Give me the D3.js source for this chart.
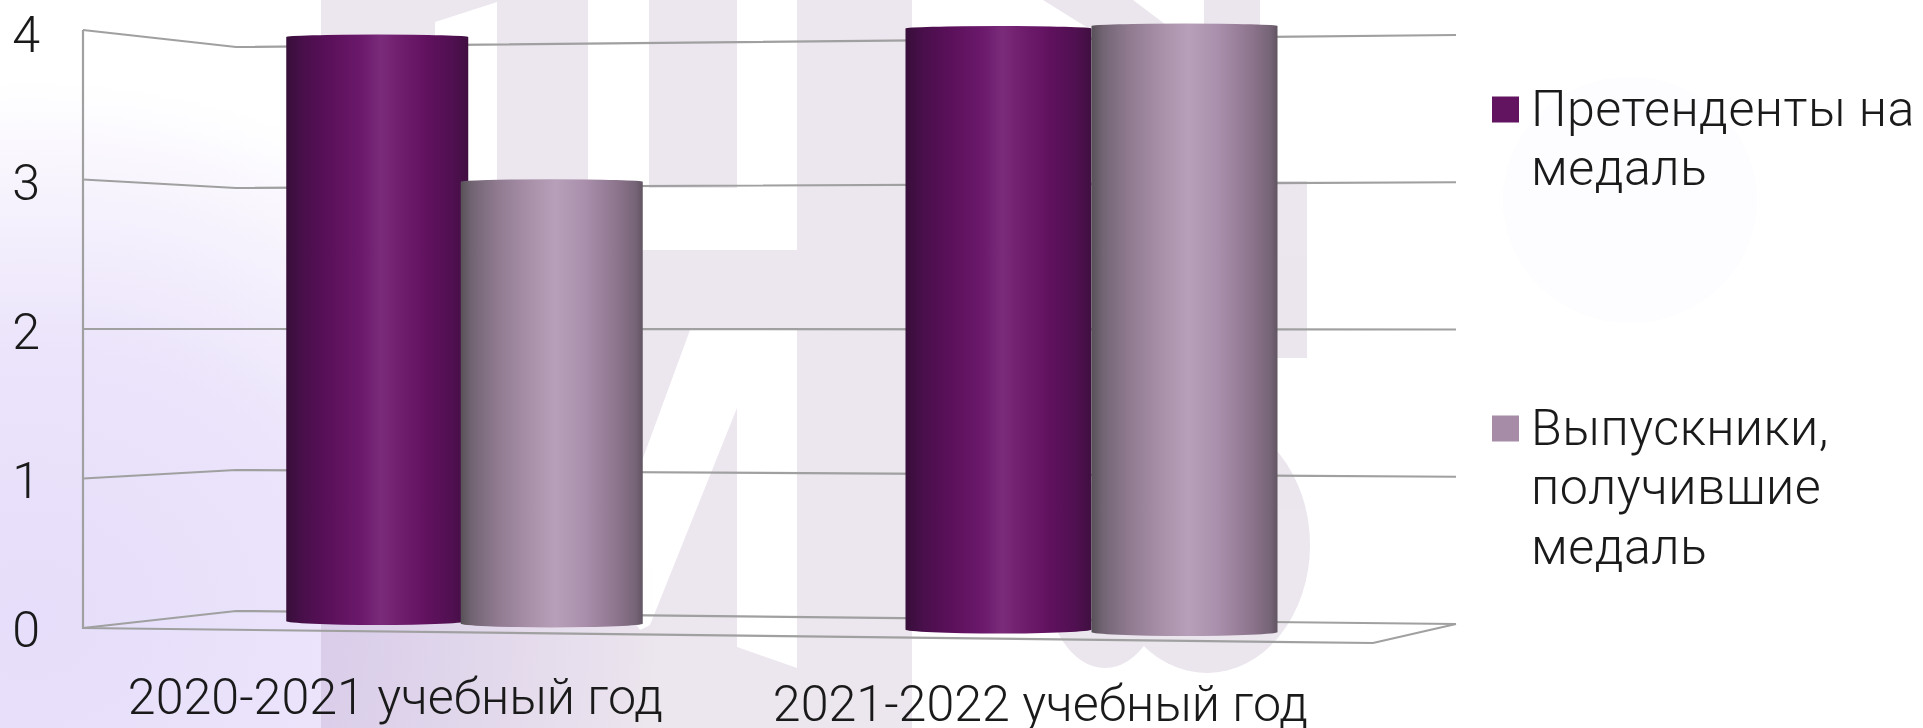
<!DOCTYPE html>
<html lang="ru">
<head>
<meta charset="utf-8">
<title>Медали</title>
<script src="https://d3js.org/d3.v7.min.js"></script>
<style>
  html, body { margin: 0; padding: 0; background: #fff; overflow: hidden; }
  text { font-family: Roboto, "Noto Sans", sans-serif; font-weight: 300; fill: #1a1a1a; }
</style>
</head>
<body>
<script>
const categories = ["2020-2021 учебный год", "2021-2022 учебный год"];
const seriesNames = ["Претенденты на медаль", "Выпускники, получившие медаль"];
const applicants = [4, 4];
const graduates = [3, 4];
const yTicks = [0, 1, 2, 3, 4];
const legendLines = [["Претенденты на", "медаль"], ["Выпускники,", "получившие", "медаль"]];

const width = 1923, height = 728;
const fontSize = 50.2;

const svg = d3.select("body").append("svg")
    .attr("width", width).attr("height", height)
    .style("display", "block");
const defs = svg.append("defs");

// фон
const bg = defs.append("radialGradient").attr("id", "bg")
    .attr("gradientUnits", "userSpaceOnUse")
    .attr("cx", 0).attr("cy", 0).attr("r", 1)
    .attr("gradientTransform", "translate(30,620) scale(630,540)");
[[0, "#e6defa"], [0.5, "#ebe4fb"], [0.78, "#f6f2fd"], [1, "#ffffff"]].forEach(s =>
    bg.append("stop").attr("offset", s[0]).attr("stop-color", s[1]));
svg.append("rect").attr("width", width).attr("height", height).attr("fill", "url(#bg)");

// водяной знак
svg.append("ellipse").attr("cx", 1630).attr("cy", 200).attr("rx", 127).attr("ry", 123)
    .attr("fill", "#fdfcfe");
const mark = svg.append("g").attr("fill", "#612f71").attr("opacity", 0.12);
const poly = pts => "M" + pts.map(p => p.join(",")).join("L") + "Z";
mark.append("path").attr("fill-rule", "evenodd").attr("d", [
    poly([[321, 0], [912, 0], [912, 728], [321, 728]]),
    poly([[435, 22], [497, 2], [497, 300], [435, 300]]),
    poly([[588, -1], [649, -1], [649, 188], [737, 188], [737, -1], [797, -1], [797, 250], [588, 250]]),
    poly([[690, 330], [797, 330], [797, 668], [737, 647], [737, 408], [650, 625], [640, 630], [600, 575]])
].join(""));
mark.append("path").attr("d", poly([[1043, 0], [1133, 0], [1170, 28], [1088, 28]]));
mark.append("path").attr("d", poly([[1204, 0], [1260, 0], [1260, 60], [1204, 60]]));
mark.append("path").attr("d", poly([[1260, 181], [1307, 181], [1307, 358], [1260, 358]]));
mark.append("ellipse").attr("cx", 1105).attr("cy", 575).attr("rx", 60).attr("ry", 93);
mark.append("ellipse").attr("cx", 1207).attr("cy", 545).attr("rx", 103).attr("ry", 128);

// шкалы
const yFront = d3.scaleLinear().domain([0, 4]).range([628, 30]);
const yCorner = d3.scaleLinear().domain([0, 4]).range([611, 47]);
const yRight = d3.scaleLinear().domain([0, 4]).range([624, 35]);
const yLabel = d3.scaleLinear().domain([0, 4]).range([630, 35]);

const x0 = d3.scaleBand().domain(categories).range([151, 1405]);
const xLabel = d3.scaleBand().domain(categories).range([73, 1363]);
const step = d3.scaleLinear().domain([0, 1]).range([174.5, 186]);
const barW = d3.scaleLinear().domain([0, 1]).range([182, 186]);
const unit = d3.scaleLinear().domain([377, 1183]).range([146, 151.5]);
const yBar = (v, cx) => 329 - (v - 2) * unit(cx);

// сетка
const wallX = 83, cornerX = 236, endX = 1456;
const line = d3.line();
const grid = svg.append("g").attr("fill", "none").attr("stroke", "#a0a0a0").attr("stroke-width", 2.2);
grid.selectAll("path.tick-line").data(yTicks).join("path")
    .attr("class", "tick-line")
    .attr("d", v => line([[wallX, yFront(v)], [cornerX, yCorner(v)], [endX, yRight(v)]]));
grid.append("path").attr("d", line([[wallX, yFront(4)], [wallX, yFront(0)], [1373, 643], [endX, yRight(0)]]));

// подписи оси
const axis = svg.append("g").attr("transform", "translate(40,0)")
    .call(d3.axisLeft(yLabel).tickValues(yTicks).tickSize(0).tickPadding(0).tickFormat(d3.format("d")));
axis.select(".domain").remove();
axis.selectAll("text").attr("font-size", fontSize).attr("fill", null);

const floorY = cx => 628 + (cx - wallX) / (1373 - wallX) * 15;
svg.append("g").selectAll("text").data(categories).join("text")
    .attr("x", d => xLabel(d) + xLabel.bandwidth() / 2)
    .attr("y", d => floorY(xLabel(d) + xLabel.bandwidth() / 2) + 82)
    .attr("text-anchor", "middle")
    .attr("font-size", fontSize)
    .text(d => d);

// цилиндры
function gradient(id, stops) {
  const g = defs.append("linearGradient").attr("id", id);
  stops.forEach(s => g.append("stop").attr("offset", s[0]).attr("stop-color", s[1]));
}
gradient("purple", [[0, "#370e39"], [0.1, "#4a0f4c"], [0.25, "#5c105b"], [0.42, "#6c1a6c"], [0.52, "#7a2c7a"],
    [0.62, "#701e6e"], [0.78, "#60115e"], [0.92, "#4f1050"], [1, "#3f0f40"]]);
gradient("mauve", [[0, "#575158"], [0.06, "#726473"], [0.2, "#8f7a90"], [0.4, "#ab93ac"], [0.52, "#b79fb9"],
    [0.68, "#a98fab"], [0.85, "#8f768f"], [0.96, "#766477"], [1, "#615562"]]);

const rows = [
  { values: applicants, fill: "url(#purple)" },
  { values: graduates, fill: "url(#mauve)" }
];
const cylinder = (cx, w, v) => {
  const left = cx - w / 2, right = cx + w / 2;
  const top = yBar(v, cx), bottom = yBar(0, cx);
  return `M${left},${top}A${w / 2},2.5 0 0 1 ${right},${top}L${right},${bottom}A${w / 2},4 0 0 1 ${left},${bottom}Z`;
};
const bars = svg.append("g");
rows.forEach((row, s) => {
  bars.selectAll(null).data(categories).join("path")
      .attr("fill", row.fill)
      .attr("d", (d, i) => {
        const cx = x0(d) + x0.bandwidth() / 2 + (s - 0.5) * step(i);
        return cylinder(cx, barW(i), row.values[i]);
      });
});

// легенда
const legendFill = ["#621460", "#a68ca6"];
const legendTop = [96.5, 415.5];
const legend = svg.append("g").selectAll("g").data(seriesNames).join("g");
legend.append("rect").attr("x", 1492).attr("y", (d, i) => legendTop[i])
    .attr("width", 27).attr("height", 26).attr("fill", (d, i) => legendFill[i]);
legend.each(function(d, i) {
  d3.select(this).selectAll("text").data(legendLines[i]).join("text")
      .attr("x", 1531)
      .attr("y", (t, j) => legendTop[i] + 29 + j * 59.5)
      .attr("font-size", fontSize)
      .attr("letter-spacing", 0.5)
      .text(t => t);
});
</script>
</body>
</html>
